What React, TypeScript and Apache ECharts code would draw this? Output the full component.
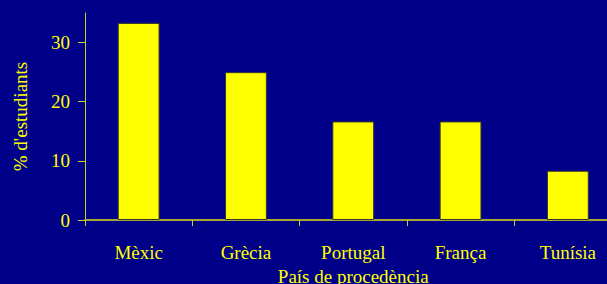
import React, { useEffect, useRef } from "react";
import * as echarts from "echarts";

const categories = ["Mèxic", "Grècia", "Portugal", "França", "Tunísia"];
const percentStudents = [33.33, 25, 16.67, 16.67, 8.33];
const yTicks = [0, 10, 20, 30];
const xAxisTitle = "País de procedència";
const yAxisTitle = "% d'estudiants";

const FONT = "'Liberation Serif', 'Times New Roman', serif";
const YELLOW = "#ffff00";
const BG = "#000088";

export default function App() {
  const ref = useRef<HTMLDivElement>(null);
  useEffect(() => {
    if (!ref.current) return;
    const chart = echarts.init(ref.current, null, { renderer: "svg" });
    chart.setOption({
      animation: false,
      backgroundColor: BG,
      grid: { left: 85, top: 13, right: -14.5, bottom: 64, containLabel: false, outerBoundsMode: "none" },
      xAxis: {
        type: "category",
        data: categories,
        boundaryGap: true,
        axisLine: { show: true, lineStyle: { color: "#a8a830", width: 2 } },
        axisTick: { show: true, inside: false, length: 6, alignWithLabel: false, lineStyle: { color: "#c8c840", width: 1 } },
        axisLabel: { color: YELLOW, fontFamily: FONT, fontSize: 19, margin: 23 },
        name: xAxisTitle,
        nameLocation: "middle",
        nameGap: 47,
        nameTextStyle: { color: YELLOW, fontFamily: FONT, fontSize: 19 },
        splitLine: { show: false },
      },
      yAxis: {
        type: "value",
        min: 0,
        max: 35,
        interval: 10,
        axisLine: { show: true, lineStyle: { color: "#d0d020", width: 1 } },
        axisTick: { show: true, inside: false, length: 7, customValues: yTicks, lineStyle: { color: "#d0d020", width: 1 } },
        axisLabel: { color: YELLOW, fontFamily: FONT, fontSize: 19, margin: 15, customValues: yTicks },
        splitLine: { show: false },
        name: yAxisTitle,
        nameLocation: "middle",
        nameRotate: 90,
        nameGap: 55,
        nameTextStyle: { color: YELLOW, fontFamily: FONT, fontSize: 19 },
      },
      series: [
        {
          type: "bar",
          data: percentStudents,
          barWidth: "39%",
          itemStyle: { color: YELLOW, borderColor: "#333333", borderWidth: 1 },
        },
      ],
    });
    return () => chart.dispose();
  }, []);
  return <div ref={ref} style={{ position: "fixed", left: 0, top: 0, width: 607, height: 284 }} />;
}
